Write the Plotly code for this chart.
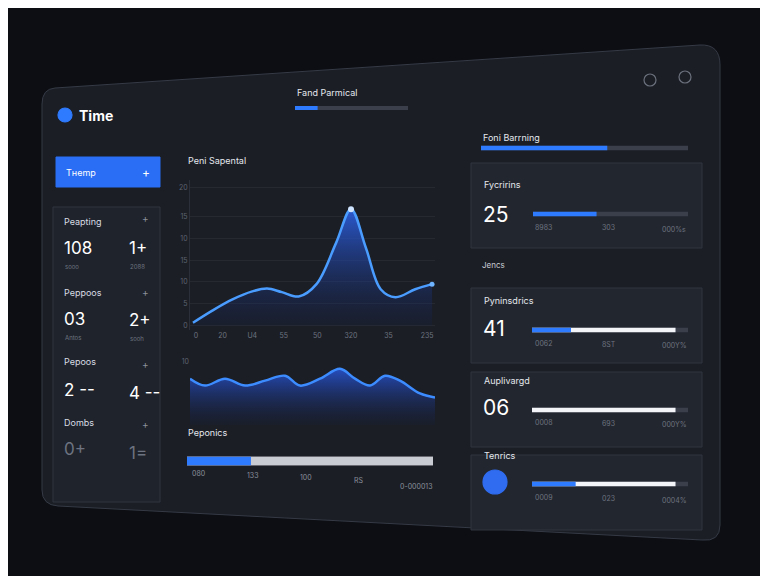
import plotly.graph_objects as go

W, H = 760, 568
OFF = 8

# main area chart
area_x = [0, 20, 40, 60, 75, 90, 107, 125, 145, 160, 175, 190, 205, 225, 242]
area_y = [0.4, 2.1, 3.6, 4.7, 5.1, 4.6, 4.0, 5.7, 11.4, 16.0, 10.7, 5.0, 3.9, 5.0, 5.7]
area_ticks = [3, 30, 60, 92, 126, 160, 198, 237]
area_ticktext = ["0", "20", "U4", "55", "50", "320", "35", "235"]
area_yticks = [0, 3, 6, 9, 12, 15, 19]
area_yticktext = ["0", "5", "10", "15", "10", "15", "20"]

# wave chart
wave_x = [0, 15, 35, 55, 75, 95, 110, 130, 150, 165, 180, 195, 210, 230, 245]
wave_y = [47, 40, 47, 40, 45, 50, 40, 47, 57, 47, 40, 50, 45, 32, 28]

# progress bars: blue %, white %
bar_names = ["top", "foni", "card1", "card2", "card3", "card4", "bottom"]
bar_blue = [20, 61, 41, 25, 0, 28, 26]
bar_white = [0, 0, 0, 92, 92, 92, 100]


def px(x):
    return (x - OFF) / W


def py(y):
    return 1 - (y - OFF) / H


fig = go.Figure()

fig.add_trace(go.Scatter(
    x=area_x, y=area_y, mode="lines", line=dict(color="#4a9dff", width=2.5, shape="spline"),
    fill="tozeroy",
    fillgradient=dict(type="vertical", colorscale=[[0, "rgba(20,35,90,0.15)"], [1, "rgba(45,100,240,0.85)"]]),
    xaxis="x", yaxis="y", hoverinfo="skip"))
fig.add_trace(go.Scatter(
    x=[area_x[-1]], y=[area_y[-1]], mode="markers", marker=dict(color="#6fb4ff", size=5),
    xaxis="x", yaxis="y"))
fig.add_trace(go.Scatter(
    x=[area_x[9]], y=[area_y[9]], mode="markers", marker=dict(color="#cfe4ff", size=6),
    xaxis="x", yaxis="y"))

fig.add_trace(go.Scatter(
    x=wave_x, y=wave_y, mode="lines", line=dict(color="#3d8cff", width=2.5, shape="spline"),
    fill="tozeroy",
    fillgradient=dict(type="vertical", colorscale=[[0, "rgba(20,35,90,0.1)"], [1, "rgba(40,90,230,0.8)"]]),
    xaxis="x2", yaxis="y2", hoverinfo="skip"))

# bar geometry in pixels (x0, x1, y, thickness)
bar_geom = [(295, 408, 108, 4), (481, 688, 148, 5), (533, 688, 214, 5), (532, 688, 330, 5),
            (532, 688, 410, 5), (532, 688, 484, 5), (187, 433, 461, 9)]

layout_axes = {}
for i, (name, b, w) in enumerate(zip(bar_names, bar_blue, bar_white)):
    n = i + 3
    x0, x1, yc, t = bar_geom[i]
    xa, ya = f"x{n}", f"y{n}"
    track = "#c9ccd3" if name == "bottom" else "#3a3f4b"
    white = "#c9ccd3" if name == "bottom" else "#f2f4f8"
    for v, c in [(100, track), (w, white), (b, "#2f7bff")]:
        fig.add_trace(go.Bar(x=[v], y=[0], orientation="h", marker=dict(color=c, line_width=0),
                             xaxis=xa, yaxis=ya, width=1, hoverinfo="skip"))
    layout_axes[f"xaxis{n}"] = dict(domain=[px(x0), px(x1)], range=[0, 100], visible=False, anchor=ya)
    layout_axes[f"yaxis{n}"] = dict(domain=[py(yc + t / 2), py(yc - t / 2)], range=[-0.5, 0.5],
                                    visible=False, anchor=xa)

fig.update_layout(
    width=W, height=H, paper_bgcolor="#0c0e13", plot_bgcolor="rgba(0,0,0,0)",
    margin=dict(l=0, r=0, t=0, b=0), showlegend=False, barmode="overlay",
    font=dict(family="Inter", color="#d8dce4"),
    xaxis=dict(domain=[px(190), px(435)], range=[-3, 245], tickvals=area_ticks, ticktext=area_ticktext,
               showgrid=False, zeroline=False, showline=False, tickfont=dict(size=7, color="#6d7380"),
               anchor="y"),
    yaxis=dict(domain=[py(330), py(180)], range=[-0.6, 20], tickvals=area_yticks, ticktext=area_yticktext,
               gridcolor="rgba(255,255,255,0.05)", zeroline=False, showline=True, linecolor="#2a2f3a",
               tickfont=dict(size=7, color="#5d6370"), anchor="x"),
    xaxis2=dict(domain=[px(190), px(435)], range=[0, 245], visible=False, anchor="y2"),
    yaxis2=dict(domain=[py(425), py(358)], range=[0, 68], tickvals=[64], ticktext=["10"],
                showgrid=False, zeroline=False, tickfont=dict(size=7, color="#5d6370"), anchor="x2"),
    **layout_axes,
)

shapes = []
# main panel (slightly skewed)
shapes.append(dict(type="path", xref="paper", yref="paper",
                   path=f"M {px(55)},{py(88)} L {px(700)},{py(45)} Q {px(720)},{py(44)} {px(720)},{py(65)} "
                        f"L {px(720)},{py(525)} Q {px(720)},{py(542)} {px(702)},{py(540)} "
                        f"L {px(58)},{py(506)} Q {px(42)},{py(505)} {px(42)},{py(490)} "
                        f"L {px(42)},{py(104)} Q {px(42)},{py(89)} {px(55)},{py(88)} Z",
                   fillcolor="#1b1e25", line=dict(color="#353a45", width=1), layer="below"))


def rect(x0, y0, x1, y1, fill, line="#30343e"):
    shapes.append(dict(type="rect", xref="paper", yref="paper", x0=px(x0), x1=px(x1), y0=py(y1), y1=py(y0),
                       fillcolor=fill, line=dict(color=line, width=1), layer="below"))


rect(53, 207, 160, 502, "#1f232b")
rect(56, 157, 160, 187, "#2a6ef5", "#2a6ef5")
for y0, y1 in [(163, 248), (288, 363), (372, 447), (455, 530)]:
    rect(471, y0, 702, y1, "#22262e")
for cx, cy, r, fill, line in [(65, 115, 7, "#2f7bff", "#2f7bff"), (495, 482, 12, "#2f6cf0", "#2f6cf0"),
                              (650, 80, 6, "rgba(0,0,0,0)", "#6b717d"), (685, 77, 6, "rgba(0,0,0,0)", "#6b717d")]:
    shapes.append(dict(type="circle", xref="paper", yref="paper", x0=px(cx - r), x1=px(cx + r),
                       y0=py(cy + r), y1=py(cy - r), fillcolor=fill, line=dict(color=line, width=1.2)))
fig.update_layout(shapes=shapes)

texts = [
    (77, 115, "<b>Time</b>", 14, "#ffffff"),
    (64, 172, "Tнemp", 9, "#ffffff"), (140, 172, "+", 12, "#ffffff"),
    (62, 221, "Peapting", 9, "#d8dce4"), (140, 218, "+", 10, "#8a909c"),
    (62, 248, "108", 17, "#ffffff"), (127, 248, "1+", 17, "#ffffff"),
    (63, 266, "sooo", 6, "#6d7380"), (128, 266, "2088", 6, "#6d7380"),
    (62, 292, "Peppoos", 9, "#d8dce4"), (140, 292, "+", 10, "#8a909c"),
    (62, 319, "03", 17, "#ffffff"), (127, 320, "2+", 17, "#ffffff"),
    (63, 337, "Antos", 6, "#6d7380"), (128, 338, "sooh", 6, "#6d7380"),
    (62, 362, "Pepoos", 9, "#d8dce4"), (140, 364, "+", 10, "#8a909c"),
    (62, 390, "2 --", 17, "#ffffff"), (127, 393, "4 --", 17, "#ffffff"),
    (62, 422, "Dombs", 9, "#d8dce4"), (140, 424, "+", 10, "#8a909c"),
    (62, 449, "0+", 17, "#6d7380"), (127, 453, "1=", 17, "#6d7380"),
    (295, 93, "Fand Parmical", 9, "#e4e7ed"),
    (186, 160, "Peni Sapental", 9, "#e4e7ed"),
    (186, 432, "Peponics", 9, "#e4e7ed"),
    (190, 473, "080", 7, "#8a909c"), (245, 475, "133", 7, "#8a909c"), (298, 477, "100", 7, "#8a909c"),
    (352, 480, "RS", 7, "#8a909c"), (398, 486, "0-000013", 7, "#8a909c"),
    (481, 137, "Foni Barrning", 9, "#e4e7ed"),
    (482, 185, "Fycririns", 9, "#e4e7ed"), (481, 214, "25", 21, "#ffffff"),
    (533, 228, "8983", 7, "#6d7380"), (600, 228, "303", 7, "#6d7380"), (660, 229, "000%s", 7, "#6d7380"),
    (480, 265, "Jencs", 8, "#c8ccd4"),
    (482, 300, "Pyninsdrics", 9, "#e4e7ed"), (481, 328, "41", 21, "#ffffff"),
    (533, 343, "0062", 7, "#6d7380"), (600, 344, "8ST", 7, "#6d7380"), (660, 345, "000Y%", 7, "#6d7380"),
    (482, 380, "Auplivargd", 9, "#e4e7ed"), (481, 407, "06", 21, "#ffffff"),
    (533, 422, "0008", 7, "#6d7380"), (600, 423, "693", 7, "#6d7380"), (660, 424, "000Y%", 7, "#6d7380"),
    (482, 455, "Tenrics", 9, "#e4e7ed"),
    (533, 497, "0009", 7, "#6d7380"), (600, 498, "023", 7, "#6d7380"), (660, 500, "0004%", 7, "#6d7380"),
]
for x, y, t, s, c in texts:
    fig.add_annotation(x=px(x), y=py(y), xref="paper", yref="paper", text=t, showarrow=False,
                       xanchor="left", yanchor="middle", font=dict(size=s, color=c))

fig.write_html("out.html")
